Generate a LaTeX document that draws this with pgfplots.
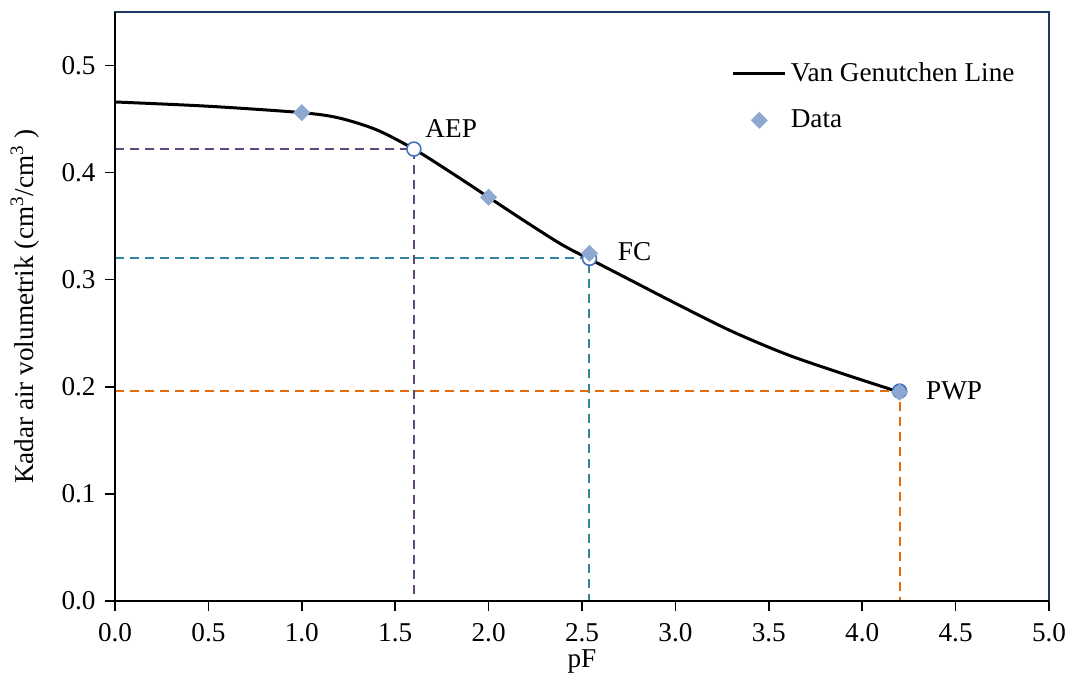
\documentclass[border=0pt]{standalone}
\usepackage{fontspec}
\setmainfont{Liberation Serif}
\usepackage{pgfplots}
\pgfplotsset{compat=1.18}

\definecolor{frameblue}{RGB}{31,56,100}
\definecolor{datablue}{RGB}{143,168,209}
\definecolor{ringblue}{RGB}{65,113,190}
\definecolor{aepcol}{RGB}{96,73,122}
\definecolor{fccol}{RGB}{49,133,156}
\definecolor{pwpcol}{RGB}{228,108,10}

\pgfplotsset{
  linelegend/.style={legend image code/.code={\draw[##1] (0pt,0pt) -- (26pt,0pt);}},
  marklegend/.style={legend image code/.code={\draw[##1] plot coordinates {(13pt,0pt)};}},
  refline/.style={forget plot, line width=1pt, dash pattern=on 4.5pt off 3pt},
}

\begin{document}
\fontsize{13.6}{16.3}\selectfont
\begin{tikzpicture}
\begin{axis}[
  scale only axis,
  width=467pt, height=294.5pt,
  xmin=0, xmax=5, ymin=0, ymax=0.55,
  xtick={0,0.5,...,5}, ytick={0,0.1,...,0.5},
  xtick pos=left, ytick pos=left,
  tick align=outside,
  major tick length=5pt,
  every tick/.style={black, line width=0.75pt},
  axis line style={draw=frameblue, line width=1pt},
  /pgf/number format/.cd, fixed, fixed zerofill, precision=1, assume math mode=true,
  /pgfplots/.cd,
  xticklabel style={yshift=-1.5pt},
  yticklabel style={xshift=0pt},
  xlabel={pF},
  ylabel={Kadar air volumetrik (cm\textsuperscript{3}/cm\textsuperscript{3} )},
  xlabel style={at={(axis description cs:0.5,-0.102)}, anchor=center},
  ylabel style={at={(axis description cs:-0.0964,0.5)}, anchor=center},
  clip=false,
  legend style={draw=none, fill=none, inner sep=0pt, at={(axis cs:3.30,0.507)}, anchor=north west,
    row sep=8pt, font=\fontsize{13.6}{16.3}\selectfont},
  legend cell align=left,
]
% van Genuchten curve
\addplot[black, line width=1.5pt, smooth, linelegend]
  coordinates {(0,0.466)(0.5,0.462)(1.0,0.456)(1.2,0.451)(1.4,0.440)(1.6,0.422)
  (1.8,0.400)(2.0,0.377)(2.2,0.354)(2.4,0.332)(2.6,0.314)(2.8,0.296)(3.0,0.278)
  (3.3,0.252)(3.6,0.230)(3.9,0.212)(4.2,0.195)};
\addlegendentry{Van Genutchen Line}

% reference lines
\addplot[refline, aepcol] coordinates {(0,0.422)(1.6,0.422)(1.6,0)};
\addplot[refline, fccol] coordinates {(0,0.320)(2.54,0.320)(2.54,0)};
\addplot[refline, pwpcol] coordinates {(0,0.196)(4.2,0.196)(4.2,0)};

% AEP / FC / PWP points
\addplot[forget plot, only marks, mark=*, mark size=3.5pt,
  mark options={fill=white, draw=ringblue, line width=0.8pt}]
  coordinates {(1.6,0.422)(2.54,0.320)};
\addplot[forget plot, only marks, mark=*, mark size=3.5pt,
  mark options={fill=datablue, draw=ringblue, line width=0.8pt}]
  coordinates {(4.2,0.196)};

% measured data
\addplot[only marks, mark=square*, mark size=2.8pt,
  mark options={rotate=45, fill=datablue, draw=datablue}, marklegend]
  coordinates {(1.0,0.456)(2.0,0.377)(2.54,0.3246)(4.2,0.195)};
\addlegendentry{Data}

\draw[black, line width=1pt] (rel axis cs:0,1) -- (rel axis cs:0,0) -- (rel axis cs:1,0);

\node[anchor=west, inner sep=0pt] at (axis cs:1.66,0.441) {AEP};
\node[anchor=west, inner sep=0pt] at (axis cs:2.69,0.326) {FC};
\node[anchor=west, inner sep=0pt] at (axis cs:4.34,0.196) {PWP};
\end{axis}
\pgfresetboundingbox
\path ([shift={(-57.5pt,-44.5pt)}]current axis.south west) rectangle ([shift={(11.5pt,6pt)}]current axis.north east);
\end{tikzpicture}
\end{document}
